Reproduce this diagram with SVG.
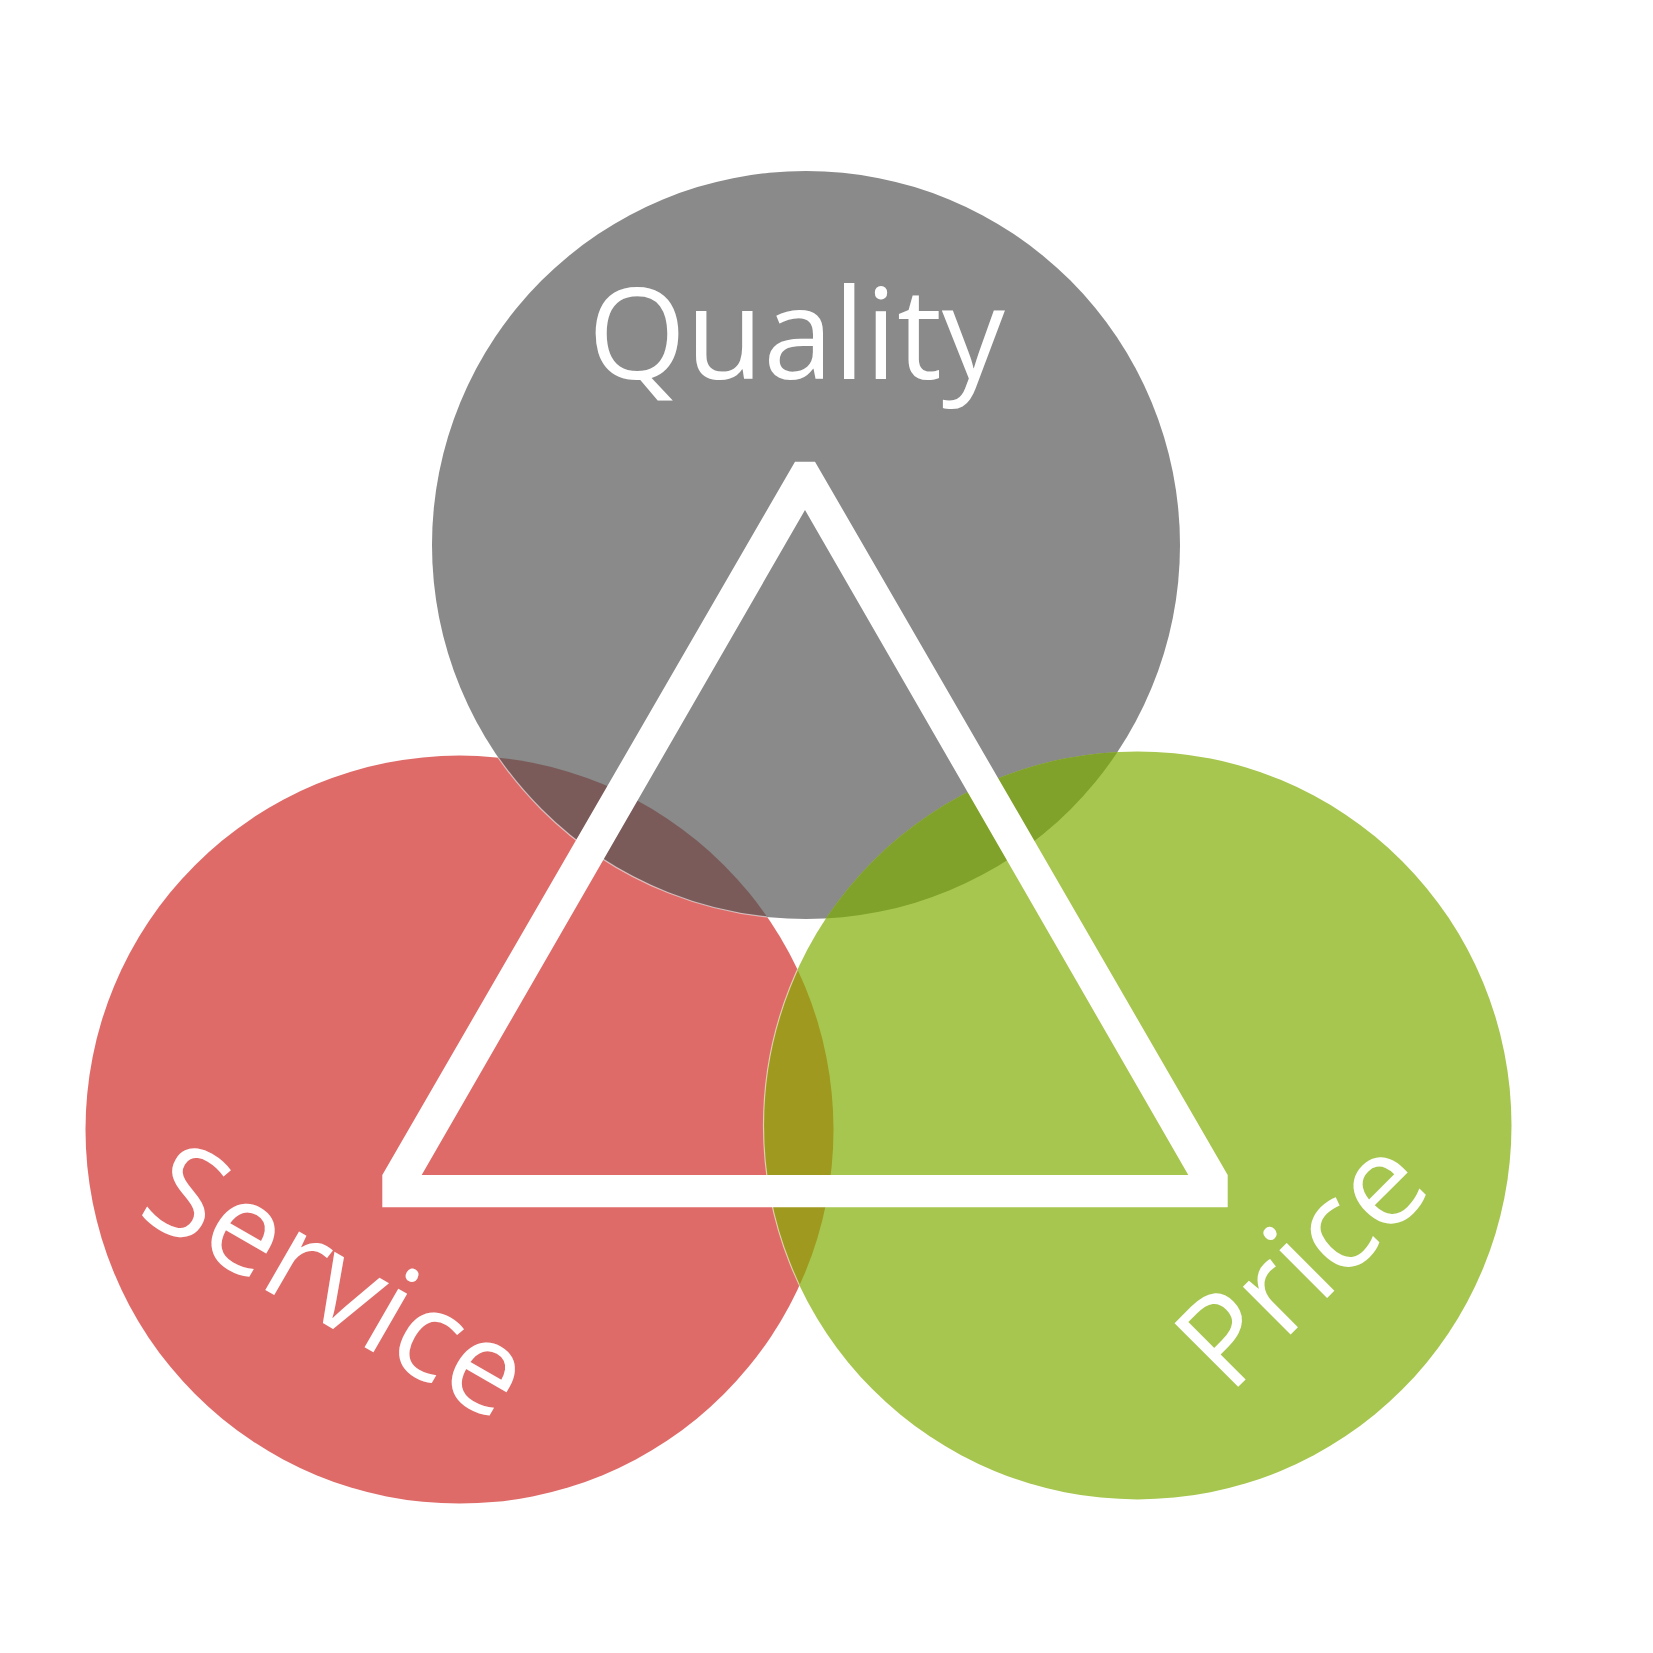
<svg xmlns="http://www.w3.org/2000/svg" width="1653" height="1653" viewBox="0 0 1653 1653">
<style>
.lbl{font-family:"Open Sans","DejaVu Sans",sans-serif;font-size:126px;fill:#ffffff}
.edge{fill:none;stroke:#ffffff;stroke-opacity:0.55;stroke-width:1.2}
</style>
<defs>
<clipPath id="cg"><circle cx="806" cy="545" r="374"/></clipPath>
<clipPath id="cr"><circle cx="459.5" cy="1129.6" r="374"/></clipPath>
</defs>
<rect width="1653" height="1653" fill="#ffffff"/>
<g id="service">
<circle cx="459.5" cy="1129.6" r="374" fill="#df6b69"/>
</g>
<g id="quality">
<circle cx="806" cy="545" r="374" fill="#898a89"/>
</g>
<g id="price">
<circle cx="1137.5" cy="1125.4" r="374" fill="#a7c64f"/>
</g>
<g id="overlaps">
<circle cx="459.5" cy="1129.6" r="374" fill="#7a5b5a" clip-path="url(#cg)"/>
<circle cx="1137.5" cy="1125.4" r="374" fill="#80a22a" clip-path="url(#cg)"/>
<circle cx="1137.5" cy="1125.4" r="374" fill="#9f9a1f" clip-path="url(#cr)"/>
<circle class="edge" cx="806" cy="545" r="374" clip-path="url(#cr)"/>
<circle class="edge" cx="1137.5" cy="1125.4" r="374" clip-path="url(#cr)"/>
</g>
<g id="triangle">
<path fill="#ffffff" fill-rule="evenodd" d="M795,461.7 L815,461.7 L1227.7,1175 L1227.7,1207.3 L382.3,1207.3 L382.3,1175 Z M805,510 L421.7,1175 L1188.3,1175 Z"/>
</g>
<g id="labels">
<text class="lbl" x="588" y="379">Quality</text>
<text class="lbl" transform="translate(135,1214.5) rotate(30)">Service</text>
<text class="lbl" transform="translate(1229.5,1395.5) rotate(-45)">Price</text>
</g>
</svg>
